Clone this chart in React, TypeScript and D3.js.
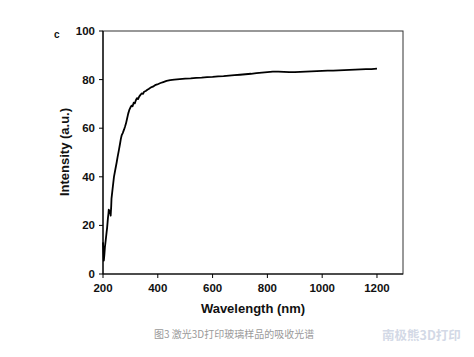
import React from "react";
import * as d3 from "d3";

const wavelengths = [200,202,203,205,207,210,213,215,218,220,221,223,225,227,228,230,231,235,240,245,250,253,258,262,265,268,272,277,280,284,288,292,296,300,304,308,312,316,320,324,328,332,336,341,346,350,356,362,368,375,382,390,398,410,420,432,445,460,480,500,520,540,560,580,600,620,640,660,680,700,720,740,760,780,800,820,840,860,880,900,920,940,960,980,1000,1020,1040,1060,1080,1100,1120,1140,1160,1180,1200];
const intensity = [13,8,5.5,8,11,14,17,19,23,25,26.5,26,25,26,24,28,31,35,40,43,46,48,51,53.5,55.5,57,58,59.5,60.5,62,64,66,67.5,68.5,69.3,69,70.5,70.2,71.5,72.4,72,73,73.6,74.3,74.1,75,75.3,75.8,76.2,76.8,77.1,77.7,78,78.6,79,79.5,79.8,80,80.2,80.4,80.5,80.7,80.8,81,81.1,81.3,81.4,81.6,81.8,82,82.2,82.4,82.7,82.9,83.1,83.3,83.3,83.2,83.1,83.1,83.2,83.3,83.4,83.5,83.6,83.7,83.7,83.8,83.9,84,84.1,84.2,84.3,84.3,84.5];
const xTicks = [200, 400, 600, 800, 1000, 1200];
const yTicks = [0, 20, 40, 60, 80, 100];
const panelLabel = "c";
const xTitle = "Wavelength (nm)";
const yTitle = "Intensity (a.u.)";
const caption = "图3  激光3D打印玻璃样品的吸收光谱";
const watermark = "南极熊3D打印";

export default function App() {
  const W = 474, H = 357;
  const left = 103, right = 403, top = 31, bottom = 274;
  const x = d3.scaleLinear().domain([200, 1295]).range([left, right]);
  const y = d3.scaleLinear().domain([0, 100]).range([bottom, top]);
  const pts = wavelengths.map((w, i) => [w, intensity[i]] as [number, number]);
  const line = d3.line<[number, number]>().x(d => x(d[0])).y(d => y(d[1]));
  const font = "'Liberation Sans', Arial, sans-serif";
  return (
    <svg width={W} height={H} style={{ position: "absolute", left: 0, top: 0, background: "#fff" }}>
      <rect x={0} y={0} width={W} height={H} fill="#fff" />
      <rect x={left} y={top} width={right - left} height={bottom - top} fill="none" stroke="#333" strokeWidth={1} />
      <line x1={left} x2={right} y1={bottom} y2={bottom} stroke="#000" strokeWidth={1.2} />
      <line x1={left} x2={left} y1={top} y2={bottom} stroke="#000" strokeWidth={1.2} />
      {xTicks.map(t => (
        <g key={"x" + t}>
          <line x1={x(t)} x2={x(t)} y1={bottom} y2={bottom + 4} stroke="#000" strokeWidth={1} />
          <text x={x(t)} y={292} textAnchor="middle" fontFamily={font} fontWeight="bold" fontSize={11.5} fill="#111">{t}</text>
        </g>
      ))}
      {yTicks.map(t => (
        <g key={"y" + t}>
          <line x1={left - 4} x2={left} y1={y(t)} y2={y(t)} stroke="#000" strokeWidth={1} />
          <text x={95} y={y(t) + 4} textAnchor="end" fontFamily={font} fontWeight="bold" fontSize={11.5} fill="#111">{t}</text>
        </g>
      ))}
      <path d={line(pts) || ""} fill="none" stroke="#000" strokeWidth={1.8} strokeLinejoin="round" />
      <text x={253} y={313} textAnchor="middle" fontFamily={font} fontWeight="bold" fontSize={13} fill="#111">{xTitle}</text>
      <text transform={`translate(69,152) rotate(-90)`} textAnchor="middle" fontFamily={font} fontWeight="bold" fontSize={13} fill="#111">{yTitle}</text>
      <text x={54} y={38} textAnchor="start" fontFamily={font} fontWeight="bold" fontSize={10} fill="#111">{panelLabel}</text>
      <text x={154} y={338} fontFamily="'Noto Sans CJK SC', sans-serif" fontSize={10} fill="#9a9a9a">{caption}</text>
      <text x={382} y={340} fontFamily="'Noto Sans CJK SC', sans-serif" fontWeight="bold" fontSize={12.5} fill="#d3d9e6">{watermark}</text>
    </svg>
  );
}
